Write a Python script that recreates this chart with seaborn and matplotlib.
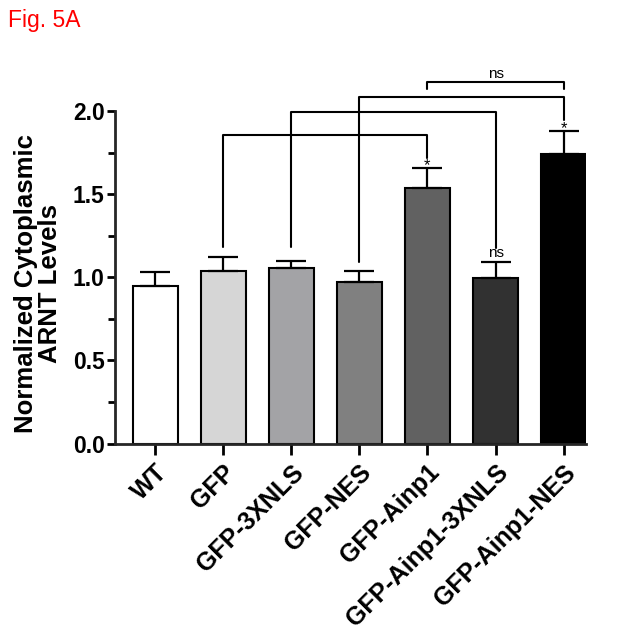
import numpy as np
import pandas as pd
import seaborn as sns
import matplotlib.pyplot as plt

groups = ["WT", "GFP", "GFP-3XNLS", "GFP-NES", "GFP-Ainp1",
          "GFP-Ainp1-3XNLS", "GFP-Ainp1-NES"]
means = [0.95, 1.04, 1.055, 0.97, 1.54, 0.995, 1.745]
sems = [0.08, 0.08, 0.045, 0.07, 0.12, 0.095, 0.135]
colors = ["#ffffff", "#d6d6d6", "#a3a3a6", "#808080", "#616161", "#313131", "#000000"]

# (left group, right group, bracket height, left leg end, right leg end, label)
brackets = [
    (1, 4, 1.855, 1.185, 1.72, None),
    (2, 5, 1.995, 1.185, 1.18, None),
    (3, 6, 2.085, 1.09, 1.95, None),
    (4, 6, 2.175, 2.135, 2.135, "ns"),
]
bar_marks = [(4, 1.645, "*"), (5, 1.12, "ns"), (6, 1.868, "*")]

df = pd.DataFrame({"group": groups, "value": means})

sns.set_style("ticks")
plt.rcParams["font.family"] = ["Liberation Sans", "DejaVu Sans"]
plt.rcParams["text.color"] = "black"
plt.rcParams["axes.labelcolor"] = "black"
plt.rcParams["xtick.color"] = "black"
plt.rcParams["ytick.color"] = "black"

fig = plt.figure(figsize=(6.35, 6.4), dpi=100)
ax = fig.add_axes([0.181, 0.307, 0.742, 0.584])

sns.barplot(data=df, x="group", y="value", hue="group", palette=colors,
            legend=False, width=0.66, edgecolor="black", linewidth=1.5, ax=ax)
x = np.arange(len(groups))
ax.errorbar(x, means, yerr=[np.zeros(len(sems)), sems], fmt="none",
            ecolor="black", elinewidth=1.6, capsize=11, capthick=1.6, zorder=1)

for i, j, h, yl, yr, txt in brackets:
    ax.plot([i, i, j, j], [yl, h, h, yr], color="black", lw=1.5,
            clip_on=False, zorder=3)
    if txt:
        ax.text((i + j) / 2, 2.2, txt, ha="center", va="baseline", fontsize=11)
for i, y, txt in bar_marks:
    ax.text(i, y, txt, ha="center", va="baseline", fontsize=11 if txt == "ns" else 12)

ax.set_xlim(-0.59, 6.33)
ax.set_ylim(0, 2.25)
ax.set_yticks([0, 0.5, 1.0, 1.5, 2.0])
ax.set_yticklabels(["0.0", "0.5", "1.0", "1.5", "2.0"], fontsize=16.5, fontweight="bold")
ax.set_yticks([0.25, 0.75, 1.25, 1.75], minor=True)
ax.tick_params(axis="y", which="major", length=6, width=2, pad=1.5)
ax.tick_params(axis="y", which="minor", length=5, width=2)
ax.tick_params(axis="x", length=8, width=2, pad=4)
ax.set_xticks(x)
ax.set_xticklabels(groups, rotation=45, ha="right", rotation_mode="anchor",
                   fontsize=18, fontweight="bold")
ax.set_xlabel("")
ax.set_ylabel("Normalized Cytoplasmic\nARNT Levels", fontsize=18.5,
              fontweight="bold", linespacing=1.0)
ax.yaxis.set_label_coords(-0.1125, 0.428)
sns.despine(ax=ax)
ax.spines["left"].set_bounds(0, 2.0)
ax.spines["left"].set_linewidth(2)
ax.spines["bottom"].set_linewidth(2)

fig.text(0.012, 0.958, "Fig. 5A", color="red", fontsize=16.5)

plt.savefig("out.png", dpi=100)
